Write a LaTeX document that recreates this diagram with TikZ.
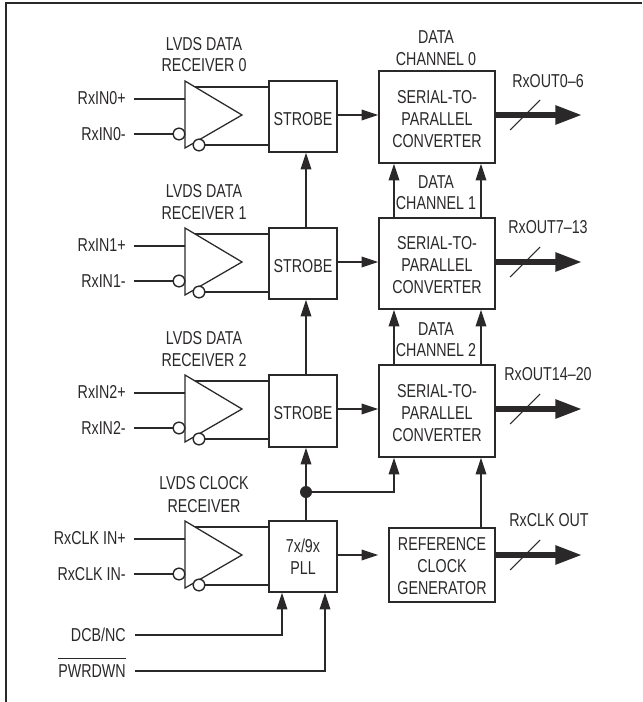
\documentclass[tikz,border=0pt]{standalone}
\usepackage{fontspec}
\setmainfont[FakeStretch=0.765]{Liberation Sans}
\usetikzlibrary{arrows.meta,calc}
\definecolor{ink}{HTML}{2B2829}
\tikzset{
  ln/.style={draw=ink,line width=0.95pt},
  box/.style={draw=ink,line width=1.15pt,fill=white,inner sep=0pt},
  lab/.style={inner sep=0pt,text=ink,font=\fontsize{14}{16.5}\selectfont,align=center,text height=10pt,text depth=0pt},
  multi/.style={inner sep=0pt,text=ink,font=\fontsize{14}{16.5}\selectfont,align=center},
  bub/.style={circle,draw=ink,line width=0.95pt,fill=white,inner sep=0pt,minimum size=8.6pt},
  dot/.style={circle,fill=ink,inner sep=0pt,minimum size=9pt},
  arr/.style={ln,-{Triangle[length=12.5pt,width=8pt]}},
  bus/.style={draw=ink,line width=4.2pt,-{Triangle[length=20pt,width=13.5pt,fill=ink]}},
  slash/.style={draw=ink,line width=0.8pt}
}
% id, left, top, right, bottom
\newcommand{\bx}[5]{\node[box,minimum width={(#4-#2)*0.75pt},minimum height={(#5-#3)*0.75pt}] (#1) at ({(#2+#4)/2},{-(#3+#5)/2}) {};}
% id, top, plus text, minus text, target box
\newcommand{\rx}[5]{%
  \coordinate (#1a) at (185,{-(#2)});
  \coordinate (#1b) at (185,{-(#2+67)});
  \coordinate (#1c) at (242,{-(#2+34)});
  \coordinate (#1o) at (195,{-(#2+6)});
  \coordinate (#1p) at (185,{-(#2+18)});
  \node[bub] (#1m) at (179,{-(#2+53)}) {};
  \node[lab,anchor=east] (#1pl) at (126,{-(#2+16.5)}) {#3};
  \node[lab,anchor=east] (#1ml) at (126,{-(#2+53)}) {#4};
  \coordinate (#1ps) at (134,{-(#2+18)});
  \coordinate (#1ms) at (134,{-(#2+53)});
  \draw[ln] (#1ps) -- (#1p);
  \draw[ln] (#1ms) -- (#1m.west);
  \draw[ln] (#1o) -- (#1o -| #5.west);
  \node[bub] (#1n) at (199,{-(#2+64)}) {};
  \draw[ln] (#1n.east) -- (#1n -| #5.west);
  \draw[ln,line join=miter] (#1a) -- (#1b) -- (#1c) -- cycle;
  \node[bub] at (#1m) {};
  \node[bub] at (#1n) {};
}
\begin{document}
\begin{tikzpicture}[x=0.75pt,y=0.75pt]
\useasboundingbox (0,0) rectangle (642,-702);
% frame
\coordinate (fa) at (6,-702); \coordinate (fb) at (6,-3); \coordinate (fc) at (642,-3);
\draw[draw=ink,line width=1.4pt] (fa) -- (fb) -- (fc);
% boxes
\bx{s0}{269}{81}{337}{152}
\bx{s1}{269}{228}{337}{299}
\bx{s2}{269}{375}{337}{447}
\bx{pll}{269}{521}{337}{592}
\bx{c0}{379}{71}{495}{163}
\bx{c1}{379}{218}{495}{309}
\bx{c2}{379}{365}{495}{457}
\bx{ref}{389}{528}{495}{602}
% box texts
\foreach \b in {s0,s1,s2} \node[multi] (t\b) at ([yshift=-1.9pt]\b.center) {STROBE};
\foreach \b in {c0,c1,c2} \node[multi] (t\b) at ([yshift=-1.5pt]\b.center) {SERIAL-TO-\\PARALLEL\\CONVERTER};
\node[multi] (tpll) at ([yshift=0pt]pll.center) {7x/9x\\PLL};
\node[multi] (tref) at ([yshift=-1pt]ref.center) {REFERENCE\\CLOCK\\GENERATOR};
% receivers
\rx{r0}{81}{RxIN0+}{RxIN0-}{s0}
\rx{r1}{228}{RxIN1+}{RxIN1-}{s1}
\rx{r2}{375}{RxIN2+}{RxIN2-}{s2}
\rx{r3}{521}{RxCLK IN+}{RxCLK IN-}{pll}
% titles
\node[lab] (h0a) at (204,-44) {LVDS DATA};   \node[lab] (h0b) at (204,-65) {RECEIVER 0};
\node[lab] (h1a) at (204,-191) {LVDS DATA};  \node[lab] (h1b) at (204,-213) {RECEIVER 1};
\node[lab] (h2a) at (204,-338) {LVDS DATA};  \node[lab] (h2b) at (204,-360) {RECEIVER 2};
\node[lab] (h3a) at (204,-483) {LVDS CLOCK}; \node[lab] (h3b) at (204,-506) {RECEIVER};
\node[lab] (d0a) at (436,-37) {DATA};  \node[lab] (d0b) at (436,-59) {CHANNEL 0};
\node[lab] (d1a) at (436,-182) {DATA}; \node[lab] (d1b) at (436,-203) {CHANNEL 1};
\node[lab] (d2a) at (436,-329) {DATA}; \node[lab] (d2b) at (436,-350) {CHANNEL 2};
% strobe to converter
\coordinate (y0) at (0,-115); \coordinate (y1) at (0,-262); \coordinate (y2) at (0,-409); \coordinate (y3) at (0,-555);
\draw[arr] (s0.east |- y0) -- (c0.west |- y0);
\draw[arr] (s1.east |- y1) -- (c1.west |- y1);
\draw[arr] (s2.east |- y2) -- (c2.west |- y2);
\draw[arr,shorten >=7.5pt] (pll.east |- y3) -- (ref.west |- y3);
% clock chain
\coordinate (vs) at (306,0); \coordinate (cl) at (394,0); \coordinate (cr) at (481,0);
\draw[arr] (s1.north -| vs) -- (s0.south -| vs);
\draw[arr] (s2.north -| vs) -- (s1.south -| vs);
\draw[arr] (pll.north -| vs) -- (s2.south -| vs);
\node[dot] (j) at (306,-492) {};
\draw[arr] (j.center) -| (c2.south -| cl);
\draw[arr] (c1.north -| cl) -- (c0.south -| cl);
\draw[arr] (c1.north -| cr) -- (c0.south -| cr);
\draw[arr] (c2.north -| cl) -- (c1.south -| cl);
\draw[arr] (c2.north -| cr) -- (c1.south -| cr);
\draw[arr] (ref.north -| cr) -- (c2.south -| cr);
% control inputs
\node[lab,anchor=east] (dcb) at (126,-635) {DCB/NC};
\node[lab,anchor=east] (pwr) at (126,-671) {PWRDWN};
\draw[draw=ink,line width=0.8pt] ([yshift=4pt]pwr.north west) -- ([yshift=4pt]pwr.north east);
\coordinate (dcbs) at (135,-635); \coordinate (pwrs) at (135,-671);
\coordinate (pa) at (282,0); \coordinate (pb) at (325,0);
\draw[arr] (dcbs) -| (pll.south -| pa);
\draw[arr] (pwrs) -| (pll.south -| pb);
% outputs
\foreach \i/\yy/\lx/\ly/\t/\src in {a/115/548/81/{RxOUT0–6}/c0,b/262/548/227/{RxOUT7–13}/c1,c/409/548/374/{RxOUT14–20}/c2,d/555/549/520/{RxCLK OUT}/ref}{
  \coordinate (o\i) at (582,-\yy);
  \draw[bus] (\src.east |- o\i) -- (o\i);
  \coordinate (o\i a) at (510,-\yy-15);
  \coordinate (o\i b) at (540,-\yy+15);
  \draw[slash] (o\i a) -- (o\i b);
  \node[lab] (o\i l) at (\lx,-\ly) {\t};
}
\end{tikzpicture}
\end{document}
